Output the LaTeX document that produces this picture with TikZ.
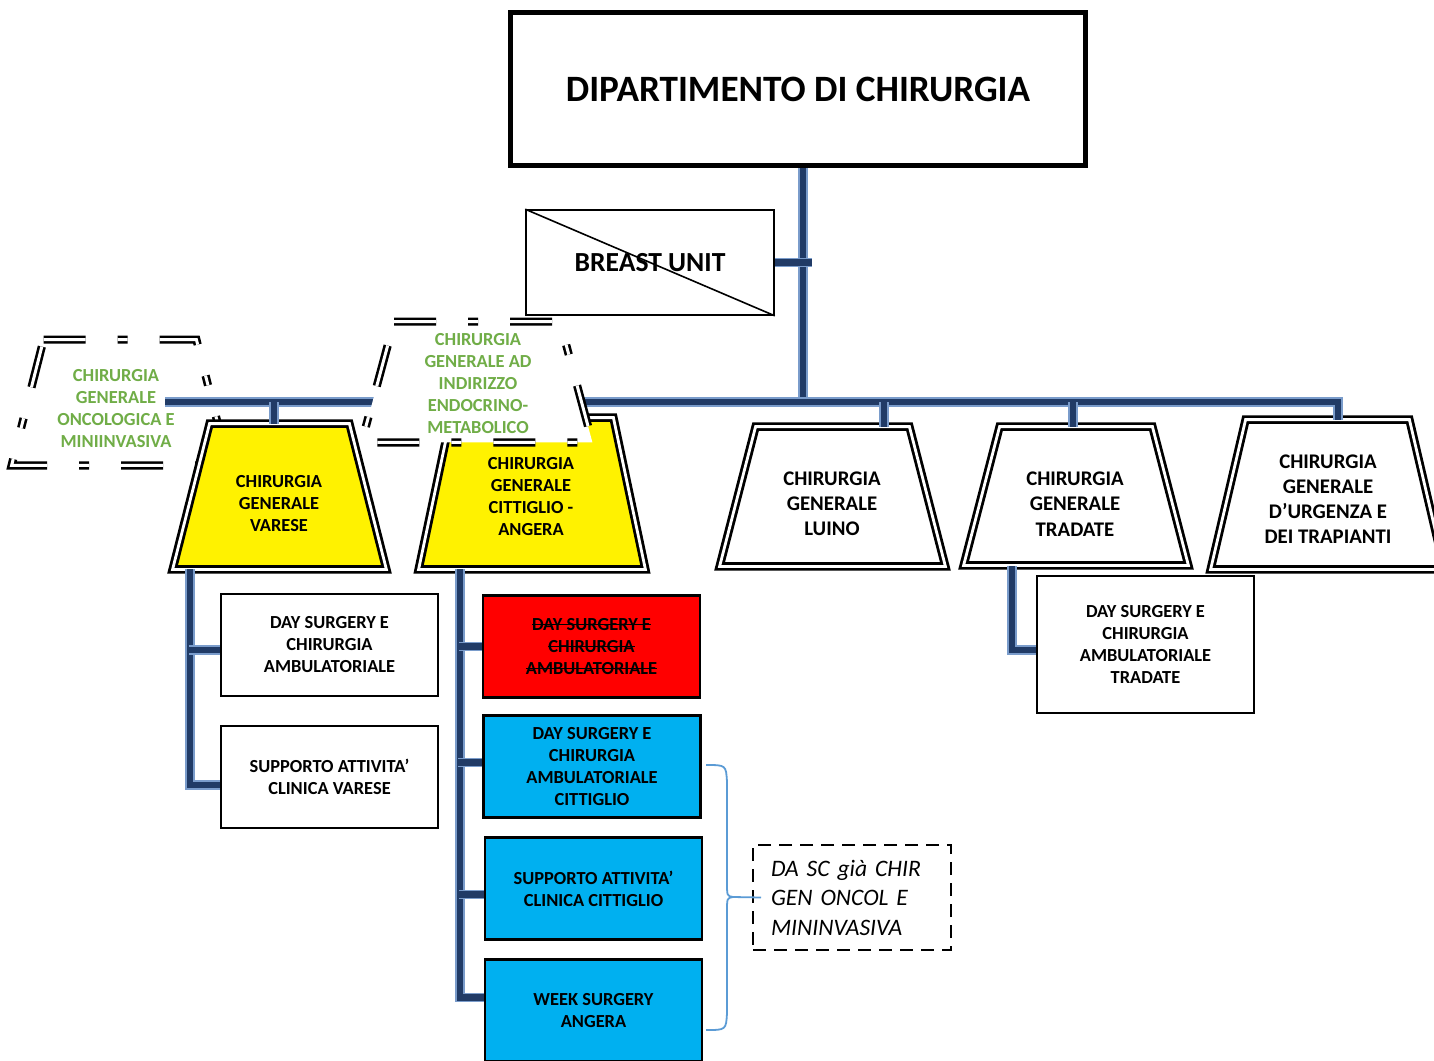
\documentclass[tikz,border=0pt]{standalone}
\usepackage{fontspec}
\setmainfont{Carlito}
\definecolor{connDark}{HTML}{213B66}
\definecolor{connEdge}{HTML}{7A9CCB}
\definecolor{ogreen}{HTML}{70AD47}
\definecolor{cyanbox}{HTML}{00B0F0}
\definecolor{braceBlue}{HTML}{5B9BD5}
\newsavebox\strkbox
\newcommand\strk[1]{\sbox\strkbox{#1}\rlap{\rule[0.3em]{\wd\strkbox}{0.5pt}}\usebox\strkbox}
\tikzset{
	conn/.style={draw=connEdge, line width=0.6pt, double=connDark, double distance=3.4pt},
	frame/.style={inner sep=0pt},
	trapof/.style 2 args={insert path={([xshift=#2]#1.north west) -- ([xshift=-#2]#1.north east) -- (#1.south east) -- (#1.south west) -- cycle}},
	unitline/.style={draw, line width=1.4pt, double=white, double distance=1.4pt, line join=miter},
	unittext/.style={align=center, font=\fontsize{9.2}{11}\selectfont\bfseries},
	bigunittext/.style={align=center, font=\fontsize{10.4}{12.6}\selectfont\bfseries},
	goneline/.style={draw, fill=white, line width=1.3pt, double=white, double distance=1.5pt, dash pattern=on 21pt off 16pt on 5pt off 16pt},
	gonetext/.style={unittext, text=ogreen},
	subbox/.style={draw, line width=0.9pt, minimum width=108.5pt, minimum height=51pt, align=center, inner sep=2pt, font=\fontsize{9.2}{11}\selectfont\bfseries},
	brace/.style={draw=braceBlue, line width=0.9pt}
}
\begin{document}
\begin{tikzpicture}[x=0.5pt,y=-0.5pt]
	\useasboundingbox (0,0) rectangle (1434,1060);
	% unita' soppressa
	\node (onc) [frame, minimum width=108pt, minimum height=62.5pt] at (120,402.5) {};
	\draw [goneline, trapof={onc}{16pt}];
	\node (oncT) [gonetext] at (116,409) {CHIRURGIA\\GENERALE\\ONCOLOGICA E\\MINIINVASIVA};

	\node (dip) [draw, line width=2.8pt, minimum width=287.5pt, minimum height=76.5pt, font=\fontsize{18.6}{22}\selectfont\bfseries] at (798,89) {DIPARTIMENTO DI CHIRURGIA};
	\node (breast) [draw, line width=0.8pt, minimum width=124pt, minimum height=52.5pt, font=\fontsize{13.8}{16}\selectfont\bfseries] at (650,262.5) {BREAST UNIT};
	\draw [line width=0.8pt] (breast.north west) -- (breast.south east);

	\node (var) [frame, minimum width=106.5pt, minimum height=72.5pt] at (279.5,496.5) {};
	\node (cit) [frame, minimum width=113pt, minimum height=75.5pt] at (532,493.5) {};
	\node (lui) [frame, minimum width=112.5pt, minimum height=69.5pt] at (832.5,496.5) {};
	\node (tra) [frame, minimum width=112pt, minimum height=69pt] at (1076,496) {};
	\node (urg) [frame, minimum width=116.5pt, minimum height=74.5pt] at (1327.5,494.5) {};
	\draw [unitline, fill=yellow, trapof={var}{18.5pt}];
	\draw [unitline, fill=yellow, trapof={cit}{16pt}];
	\draw [unitline, trapof={lui}{18pt}];
	\draw [unitline, trapof={tra}{18pt}];
	\draw [unitline, trapof={urg}{17.5pt}];
	\node (varT) [unittext] at (279,504) {CHIRURGIA\\GENERALE\\VARESE};
	\node (citT) [unittext] at (531,497) {CHIRURGIA\\GENERALE\\CITTIGLIO -\\ANGERA};
	\node (luiT) [bigunittext] at (832,504) {CHIRURGIA\\GENERALE\\LUINO};
	\node (traT) [bigunittext] at (1075,504) {CHIRURGIA\\GENERALE\\TRADATE};
	\node (urgT) [bigunittext] at (1328,499) {CHIRURGIA\\GENERALE\\D’URGENZA E\\DEI TRAPIANTI};

	\coordinate (bus) at (803,402);
	\coordinate (busL) at (165,402);
	\coordinate (busR) at (1338,402);
	\draw [conn] (dip.south -| bus) -- (bus);
	\draw [conn] (breast.east) -- ([xshift=4.5pt]breast.east -| bus);
	\draw [conn] (busL) -- (busR) -- (busR |- urg.north);
	\draw [conn] ([xshift=-2.75pt]var.north) -- ([xshift=-2.75pt]var.north |- bus);
	\draw [conn] ([xshift=25.75pt]lui.north) -- ([xshift=25.75pt]lui.north |- bus);
	\draw [conn] ([xshift=-1.5pt]tra.north) -- ([xshift=-1.5pt]tra.north |- bus);

	% unita' soppressa
	\node (endo) [frame, minimum width=115pt, minimum height=60pt] at (477,382) {};
	\draw [goneline, trapof={endo}{16.25pt}];
	\node (endoT) [gonetext] at (478,383.5) {CHIRURGIA\\GENERALE AD\\INDIRIZZO\\ENDOCRINO-\\METABOLICO};

	\node (dsVar) [subbox] at (329.5,645) {DAY SURGERY E\\CHIRURGIA\\AMBULATORIALE};
	\node (supVar) [subbox] at (329.5,777) {SUPPORTO ATTIVITA’\\CLINICA VARESE};
	\node (dsCitR) [subbox, fill=red, line width=1.4pt] at (591.5,646.5) {\strk{DAY SURGERY E}\\\strk{CHIRURGIA}\\\strk{AMBULATORIALE}};
	\node (dsCit) [subbox, fill=cyanbox, line width=1.2pt] at (592,766.5) {DAY SURGERY E\\CHIRURGIA\\AMBULATORIALE\\CITTIGLIO};
	\node (supCit) [subbox, fill=cyanbox, line width=1.2pt] at (593.5,888.5) {SUPPORTO ATTIVITA’\\CLINICA CITTIGLIO};
	\node (week) [subbox, fill=cyanbox, line width=1.2pt] at (593.5,1010.5) {WEEK SURGERY\\ANGERA};
	\node (dsTra) [subbox, minimum height=68.5pt] at (1145.5,644.5) {DAY SURGERY E\\CHIRURGIA\\AMBULATORIALE\\TRADATE};

	\coordinate (varFoot) at (190,569);
	\coordinate (citFoot) at (460,569);
	\coordinate (traFoot) at (1012,566);
	\draw [conn] (varFoot) |- ([yshift=-4pt]supVar.west);
	\draw [conn] ([yshift=-2.5pt]dsVar.west) -- ++(-31,0);
	\draw [conn] (citFoot) |- ([yshift=6.5pt]week.west);
	\draw [conn] (dsCitR.west) -- ++(-23,0);
	\draw [conn] ([yshift=2pt]dsCit.west) -- ++(-24,0);
	\draw [conn] ([yshift=-3pt]supCit.west) -- ++(-25,0);
	\draw [conn] (traFoot) |- ([yshift=-2.75pt]dsTra.west);

	\node (note) [draw, dash pattern=on 6.5pt off 4pt, line width=1pt, minimum width=99pt, minimum height=52.5pt, text width=81pt, align=left, inner xsep=9pt, font=\fontsize{11.8}{14.75}\selectfont\itshape] at (852,897.5) {DA SC già CHIR\\GEN ONCOL E\\MININVASIVA};
	\coordinate (brTop) at (706,765);
	\coordinate (brBot) at (706,1030);
	\coordinate (brTip) at (733,897);
	\draw [brace] (brTop) .. controls (726,765) .. (727,782) -- (727,882) .. controls (727,896) .. (brTip) .. controls (727,898) .. (727,912) -- (727,1013) .. controls (726,1030) .. (brBot);
	\draw [brace] (brTip) -- ([xshift=4.5pt]note.west);
\end{tikzpicture}
\end{document}
